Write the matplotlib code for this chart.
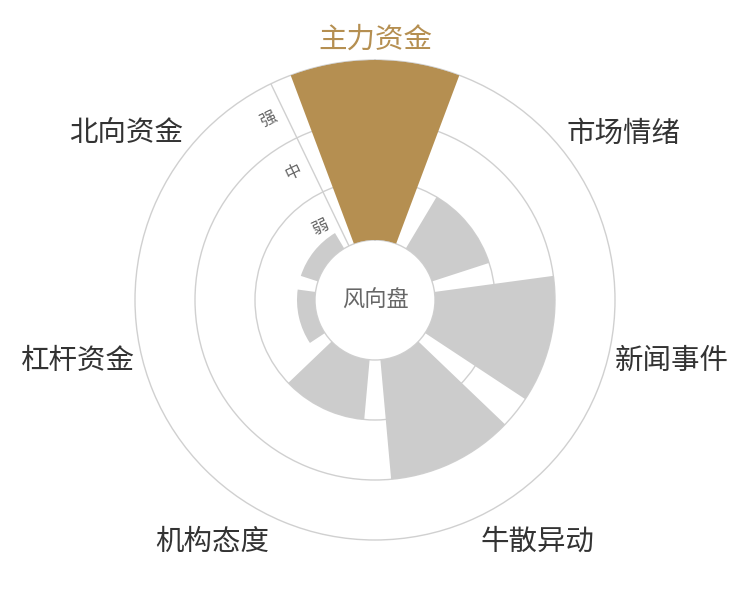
import numpy as np
import matplotlib
matplotlib.use("Agg")
import matplotlib.pyplot as plt

plt.rcParams['font.family'] = ['Noto Sans CJK SC', 'DejaVu Sans']

# 数据
categories = ["主力资金", "市场情绪", "新闻事件", "牛散异动", "机构态度", "杠杆资金", "北向资金"]
values = [3, 1, 2, 2, 1, 0.3, 0.3]
levels = ["弱", "中", "强"]
center_text = "风向盘"

gold = "#B58F51"
gray = "#CCCCCC"
line_c = "#D0D0D0"

n = len(categories)
step = 2 * np.pi / n
theta = np.arange(n) * step
colors = [gold] + [gray] * (n - 1)

fig = plt.figure(figsize=(7.5, 6), dpi=100)
ax = fig.add_axes([0.18, 0.1, 0.64, 0.8], projection='polar')
ax.set_theta_zero_location('N')
ax.set_theta_direction(-1)
ax.set_ylim(0, 3)
ax.set_rorigin(-1)

ax.bar(theta, values, width=step * 0.8, bottom=0, color=colors, zorder=3)

# 网格
ax.set_xticks([])
ax.set_yticks([1, 2])
ax.set_yticklabels([])
ax.yaxis.grid(True, color=line_c, lw=1)
ax.xaxis.grid(False)
ax.set_axisbelow(True)
for name in ['polar', 'inner']:
    ax.spines[name].set_color(line_c)
    ax.spines[name].set_linewidth(1)
for name in ['start', 'end']:
    ax.spines[name].set_visible(False)

# 径向轴线 + 弱/中/强
a0 = -step / 2
ax.plot([a0, a0], [0, 3], color=line_c, lw=1, zorder=2)
for i, lv in enumerate(levels):
    ax.annotate(lv, xy=(a0, i + 0.5), xytext=(-16, -8), textcoords='offset pixels',
                ha='center', va='center', rotation=np.degrees(step / 2),
                fontsize=12, color='#666666')

# 类别标签
r_lab = 3 + 8 / 60
for t, cat, c in zip(theta, categories, colors):
    ang = np.pi / 2 - t
    cx, cy = np.cos(ang), np.sin(ang)
    ha = 'center' if abs(cx) < 0.3 else ('left' if cx > 0 else 'right')
    va = 'center' if abs(cy) < 0.3 else ('bottom' if cy > 0 else 'top')
    dx = {'left': -2, 'right': 2, 'center': 0}[ha]
    dy = {'center': -6, 'bottom': -3, 'top': -3}[va]
    ax.annotate(cat, xy=(t, r_lab), xytext=(dx, dy), textcoords='offset pixels',
                ha=ha, va=va, fontsize=20.5,
                color=gold if c == gold else '#333333', annotation_clip=False)

ax.text(0.5, 0.5, center_text, transform=ax.transAxes, ha='center', va='center',
        fontsize=16, color='#666666')

fig.savefig("out.png", dpi=100)
